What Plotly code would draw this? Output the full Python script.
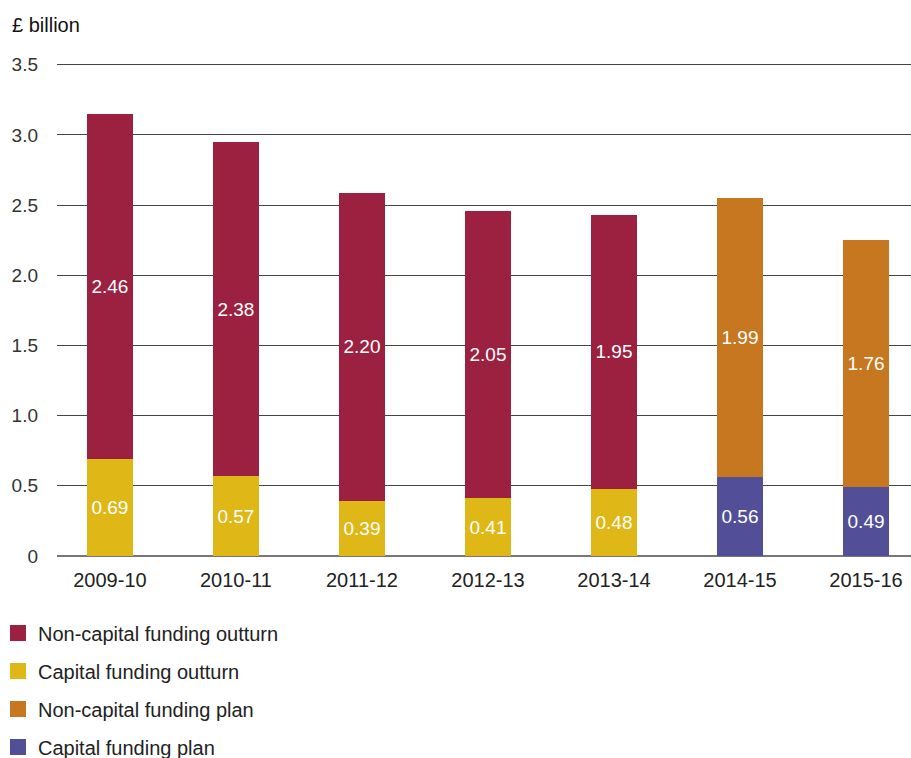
import plotly.graph_objects as go

years = ["2009-10", "2010-11", "2011-12", "2012-13", "2013-14", "2014-15", "2015-16"]
outturn_years = years[:5]
plan_years = years[5:]
noncap_outturn = [2.46, 2.38, 2.20, 2.05, 1.95]
cap_outturn = [0.69, 0.57, 0.39, 0.41, 0.48]
noncap_plan = [1.99, 1.76]
cap_plan = [0.56, 0.49]
y_ticks = [0, 0.5, 1.0, 1.5, 2.0, 2.5, 3.0, 3.5]
y_tick_text = ["0", "0.5", "1.0", "1.5", "2.0", "2.5", "3.0", "3.5"]

C_NONCAP_OUT = "#9C2140"
C_CAP_OUT = "#DFB716"
C_NONCAP_PLAN = "#C77720"
C_CAP_PLAN = "#524F98"

FONT = "Liberation Sans, Arial, sans-serif"
W = 0.365

def bar(name, x, y, color):
    return go.Bar(
        name=name, x=x, y=y, marker=dict(color=color, line=dict(width=0)),
        width=W, text=[f"{v:.2f}" for v in y], textposition="inside",
        insidetextanchor="middle", textangle=0,
        textfont=dict(color="white", size=19, family=FONT),
        showlegend=False, hoverinfo="skip",
    )

def legend_item(name, color, rank):
    return go.Scatter(
        name=name, x=[None], y=[None], mode="markers",
        marker=dict(symbol="square", size=16, color=color, line=dict(width=0)),
        legendrank=rank, legendgroup=name, showlegend=True,
    )

fig = go.Figure()
fig.add_trace(bar("Capital funding outturn", outturn_years, cap_outturn, C_CAP_OUT))
fig.add_trace(bar("Non-capital funding outturn", outturn_years, noncap_outturn, C_NONCAP_OUT))
fig.add_trace(bar("Capital funding plan", plan_years, cap_plan, C_CAP_PLAN))
fig.add_trace(bar("Non-capital funding plan", plan_years, noncap_plan, C_NONCAP_PLAN))
fig.add_trace(legend_item("Non-capital funding outturn", C_NONCAP_OUT, 1))
fig.add_trace(legend_item("Capital funding outturn", C_CAP_OUT, 2))
fig.add_trace(legend_item("Non-capital funding plan", C_NONCAP_PLAN, 3))
fig.add_trace(legend_item("Capital funding plan", C_CAP_PLAN, 4))

fig.update_layout(
    width=911, height=758,
    barmode="stack",
    paper_bgcolor="white", plot_bgcolor="white",
    margin=dict(l=57, r=0, t=62, b=202, autoexpand=False),
    font=dict(family=FONT, size=20, color="#222222"),
    uniformtext=dict(mode=False),
    xaxis=dict(
        type="category",
        categoryorder="array", categoryarray=years,
        range=[-0.42, 6.357], showgrid=False, showline=False, zeroline=False,
        ticks="", tickfont=dict(size=20, color="#222222"), ticklabelstandoff=10,
        fixedrange=True,
    ),
    yaxis=dict(
        range=[0, 3.52], tickvals=y_ticks, ticktext=y_tick_text,
        showgrid=True, gridcolor="#444444", gridwidth=1,
        zeroline=True, zerolinecolor="#777777", zerolinewidth=1.5,
        showline=False, ticks="",
        tickfont=dict(size=19, color="#333333"), ticklabelstandoff=18,
        fixedrange=True,
    ),
    showlegend=True,
    legend=dict(
        orientation="v", x=-0.0691, xref="paper", xanchor="left",
        y=0.1906, yref="container", yanchor="top",
        traceorder="grouped", tracegroupgap=9,
        font=dict(size=20, color="#222222", family=FONT),
        bgcolor="rgba(0,0,0,0)", itemclick=False, itemdoubleclick=False,
    ),
    annotations=[dict(
        text="£ billion", xref="paper", yref="paper", x=-0.0551, y=1.0,
        xanchor="left", yanchor="bottom", yshift=24, showarrow=False,
        font=dict(size=20, color="#111111", family=FONT),
    )],
)

fig.write_html("out.html")
